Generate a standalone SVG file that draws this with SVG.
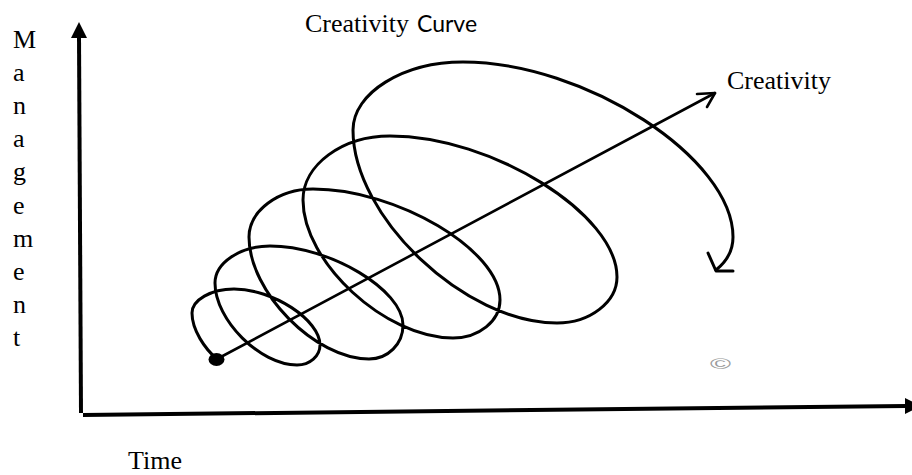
<svg xmlns="http://www.w3.org/2000/svg" width="912" height="475" viewBox="0 0 912 475">
<style>
.serif{font-family:"Liberation Serif","Times New Roman",serif;font-size:26px;fill:#000}
.sans{font-family:Lato,"Liberation Sans",sans-serif;font-size:23px;fill:#000}
.axis{stroke:#000;stroke-width:4;fill:none}
.curve{stroke:#000;stroke-width:3;fill:none;stroke-linecap:round;stroke-linejoin:round}
.thin{stroke:#000;stroke-width:2.6;fill:none;stroke-linecap:round;stroke-linejoin:round}
</style>
<rect width="912" height="475" fill="#fff"/>
<g id="axes">
<line class="axis" x1="79" y1="36" x2="81" y2="413"/>
<polygon points="79,22 71,38 87,38" fill="#000"/>
<line class="axis" x1="83" y1="415" x2="906" y2="406"/>
<polygon points="905,398 921,406 905,414" fill="#000"/>
</g>
<g id="title">
<text class="serif" x="305" y="32">Creativity <tspan class="sans" x="417">Curve</tspan></text>
</g>
<g id="y-label">
<text class="serif" x="13" y="48">M</text>
<text class="serif" x="13" y="81">a</text>
<text class="serif" x="13" y="114">n</text>
<text class="serif" x="13" y="147">a</text>
<text class="serif" x="13" y="180">g</text>
<text class="serif" x="13" y="214">e</text>
<text class="serif" x="13" y="247">m</text>
<text class="serif" x="13" y="280">e</text>
<text class="serif" x="13" y="313">n</text>
<text class="serif" x="13" y="346">t</text>
</g>
<g id="x-label">
<text class="serif" x="128" y="469">Time</text>
</g>
<g id="spiral">
<path class="curve" d="M217,359 C205,349 192,330 192,313 C192,300 211,289 234,289 C273,289 320,320 320,345 C320,356 310,365 297,365 C260,365 215,320 215,283 C215,263 240,246 270,246 C330,246 403,290 403,325 C403,344 388,359 369,359 C315,359 249,292 249,237 C249,211 278,189 313,189 C397,189 500,250 500,300 C500,321 479,338 453,338 C385,338 303,262 303,200 C303,165 342,136 390,136 C492,136 617,214 617,277 C617,302 590,323 557,323 C465,323 353,217 353,130 C353,93 403,62 463,62 C585,62 733,158 733,237 C733,252 726,262 716,270"/>
<polyline class="curve" points="708,253 716,271 733,271"/>
</g>
<g id="creativity-arrow">
<line class="thin" x1="217" y1="359" x2="715" y2="93"/>
<polyline class="thin" points="697,94 715,93 707,107"/>
<ellipse cx="216.5" cy="359.5" rx="8" ry="6.5" fill="#000"/>
<text class="serif" x="727" y="89">Creativity</text>
</g>
<g id="copyright">
<text x="710" y="369" font-family="Liberation Sans, sans-serif" font-size="15" fill="#9a9a9a" textLength="21" lengthAdjust="spacingAndGlyphs">©</text>
</g>
</svg>
